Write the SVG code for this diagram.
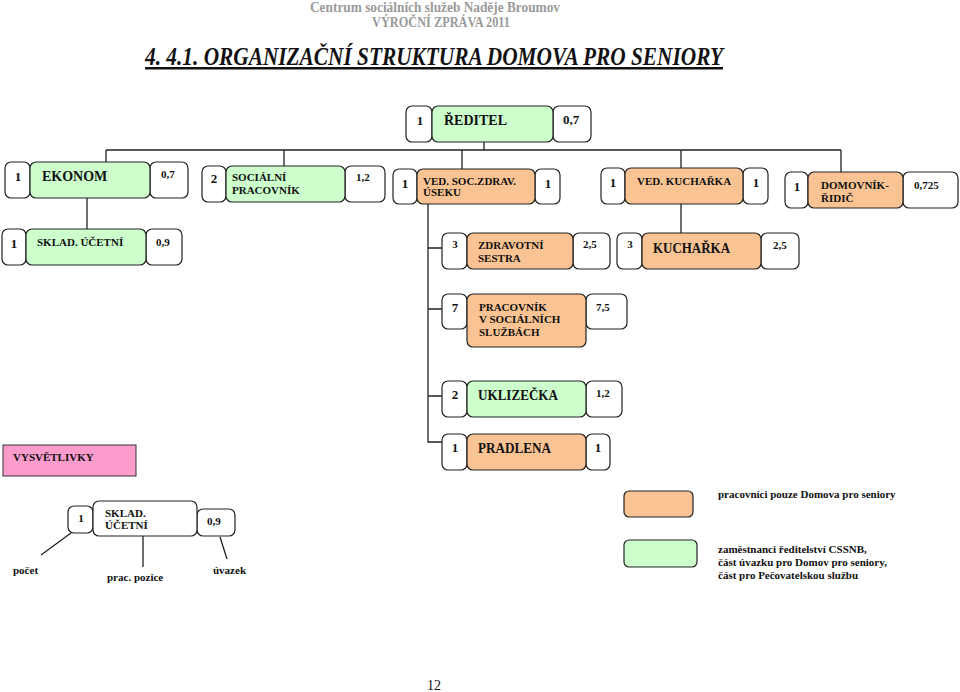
<svg xmlns="http://www.w3.org/2000/svg" width="960" height="692" viewBox="0 0 960 692">
<style>
text{font-family:"Liberation Serif","Times New Roman",serif;font-weight:bold;fill:#111}
.b{stroke:#222;stroke-width:1.2;fill:#fff}
.g{stroke:#222;stroke-width:1.2;fill:#ccffcc}
.o{stroke:#222;stroke-width:1.2;fill:#fac393}
.ln{stroke:#222;stroke-width:1.3;fill:none}
.s11{font-size:11px}
.s13{font-size:13px}
.s14{font-size:14px}
.n{font-size:13px;text-anchor:middle}
.r{font-size:11px}
</style>
<rect width="960" height="692" fill="#fff"/>
<g id="header">
<text x="435" y="12" text-anchor="middle" style="font-size:14px;fill:#9a9a9a" textLength="250" lengthAdjust="spacingAndGlyphs">Centrum sociálních služeb Naděje Broumov</text>
<text x="441" y="27" text-anchor="middle" style="font-size:14px;fill:#9a9a9a" textLength="138" lengthAdjust="spacingAndGlyphs">VÝROČNÍ ZPRÁVA 2011</text>
<text x="145" y="65" style="font-size:25px;font-style:italic;text-decoration:underline" textLength="578" lengthAdjust="spacingAndGlyphs">4. 4.1. ORGANIZAČNÍ STRUKTURA DOMOVA PRO SENIORY</text>
</g>
<g id="connectors">
<path class="ln" d="M484,142V150M106,150H841M106,150V162M284,150V166M462,150V169M681,150V168M841,150V172"/>
<path class="ln" d="M87,198V229"/>
<path class="ln" d="M428,204V442H442M428,248H442M428,309H442M428,396H442"/>
<path class="ln" d="M681,204V233"/>
<path class="ln" d="M71,533L41,555M143,536V567M220,537L227,559"/>
</g>
<g id="reditel">
<rect class="b" x="406" y="106" width="26" height="36" rx="6"/>
<rect class="b" x="553" y="106" width="38" height="36" rx="6"/>
<rect class="g" x="432" y="106" width="121" height="36" rx="6"/>
<text class="n" x="420" y="125">1</text>
<text class="s14" x="444" y="125">ŘEDITEL</text>
<text class="s13" x="563" y="124">0,7</text>
</g>
<g id="ekonom">
<rect class="b" x="5" y="162" width="25" height="36" rx="6"/>
<rect class="b" x="150" y="162" width="38" height="36" rx="6"/>
<rect class="g" x="30" y="162" width="120" height="36" rx="6"/>
<text class="n" x="18" y="181">1</text>
<text class="s14" x="42" y="181">EKONOM</text>
<text class="r" x="161" y="178">0,7</text>
</g>
<g id="socialni">
<rect class="b" x="202" y="166" width="24" height="36" rx="6"/>
<rect class="b" x="345" y="166" width="40" height="36" rx="6"/>
<rect class="g" x="226" y="166" width="119" height="36" rx="6"/>
<text class="n" x="214" y="183">2</text>
<text class="s11" x="232" y="181">SOCIÁLNÍ</text>
<text class="s11" x="232" y="194">PRACOVNÍK</text>
<text class="r" x="356" y="181">1,2</text>
</g>
<g id="ved-soc">
<rect class="b" x="393" y="169" width="24" height="35" rx="6"/>
<rect class="b" x="535" y="169" width="25" height="35" rx="6"/>
<rect class="o" x="417" y="169" width="118" height="35" rx="6"/>
<text class="n" x="405" y="188">1</text>
<text class="s11" x="423" y="185">VED. SOC.ZDRAV.</text>
<text class="s11" x="423" y="196">ÚSEKU</text>
<text class="n" x="548" y="188">1</text>
</g>
<g id="ved-kuch">
<rect class="b" x="601" y="168" width="24" height="36" rx="6"/>
<rect class="b" x="743" y="168" width="25" height="36" rx="6"/>
<rect class="o" x="625" y="168" width="118" height="36" rx="6"/>
<text class="n" x="613" y="187">1</text>
<text class="s11" x="637" y="185">VED. KUCHAŘKA</text>
<text class="n" x="756" y="187">1</text>
</g>
<g id="domovnik">
<rect class="b" x="785" y="172" width="23" height="36" rx="6"/>
<rect class="b" x="903" y="172" width="55" height="36" rx="6"/>
<rect class="o" x="808" y="172" width="95" height="36" rx="6"/>
<text class="n" x="797" y="191">1</text>
<text class="s11" x="821" y="189">DOMOVNÍK-</text>
<text class="s11" x="821" y="202">ŘIDIČ</text>
<text class="r" x="914" y="189">0,725</text>
</g>
<g id="sklad">
<rect class="b" x="2" y="229" width="24" height="36" rx="6"/>
<rect class="b" x="146" y="229" width="36" height="36" rx="6"/>
<rect class="g" x="26" y="229" width="120" height="36" rx="6"/>
<text class="n" x="14" y="248">1</text>
<text class="s11" x="37" y="246">SKLAD. ÚČETNÍ</text>
<text class="r" x="156" y="246">0,9</text>
</g>
<g id="zdrav-sestra">
<rect class="b" x="442" y="233" width="25" height="36" rx="6"/>
<rect class="b" x="573" y="233" width="37" height="36" rx="6"/>
<rect class="o" x="467" y="233" width="106" height="36" rx="6"/>
<text class="r" x="455" y="248" text-anchor="middle">3</text>
<text class="s11" x="478" y="249">ZDRAVOTNÍ</text>
<text class="s11" x="478" y="262">SESTRA</text>
<text class="r" x="583" y="248">2,5</text>
</g>
<g id="kucharka">
<rect class="b" x="617" y="233" width="25" height="36" rx="6"/>
<rect class="b" x="761" y="233" width="38" height="36" rx="6"/>
<rect class="o" x="642" y="233" width="119" height="36" rx="6"/>
<text class="r" x="630" y="248" text-anchor="middle">3</text>
<text x="653" y="253" style="font-size:14px" textLength="77" lengthAdjust="spacingAndGlyphs">KUCHAŘKA</text>
<text class="r" x="773" y="249">2,5</text>
</g>
<g id="pracovnik">
<rect class="b" x="442" y="294" width="25" height="35" rx="6"/>
<rect class="b" x="586" y="294" width="41" height="35" rx="6"/>
<rect class="o" x="467" y="294" width="119" height="53" rx="6"/>
<text class="n" x="455" y="312">7</text>
<text class="s11" x="479" y="311">PRACOVNÍK</text>
<text class="s11" x="479" y="323">V SOCIÁLNÍCH</text>
<text class="s11" x="479" y="336">SLUŽBÁCH</text>
<text class="r" x="596" y="311">7,5</text>
</g>
<g id="uklizecka">
<rect class="b" x="442" y="381" width="25" height="36" rx="6"/>
<rect class="b" x="586" y="381" width="36" height="36" rx="6"/>
<rect class="g" x="467" y="381" width="119" height="36" rx="6"/>
<text class="n" x="455" y="399">2</text>
<text class="s14" x="478" y="400" textLength="80" lengthAdjust="spacingAndGlyphs">UKLIZEČKA</text>
<text class="r" x="596" y="397">1,2</text>
</g>
<g id="pradlena">
<rect class="b" x="442" y="434" width="25" height="36" rx="6"/>
<rect class="b" x="586" y="434" width="24" height="36" rx="6"/>
<rect class="o" x="467" y="434" width="119" height="36" rx="6"/>
<text class="n" x="455" y="452">1</text>
<text class="s14" x="478" y="453" textLength="73" lengthAdjust="spacingAndGlyphs">PRADLENA</text>
<text class="n" x="598" y="452">1</text>
</g>
<g id="vysvetlivky">
<rect x="3" y="445" width="133" height="31" fill="#fc9ccd" stroke="#333" stroke-width="1"/>
<text class="s11" x="13" y="461">VYSVĚTLIVKY</text>
</g>
<g id="legend-node">
<rect class="b" x="68" y="506" width="25" height="27" rx="6"/>
<rect class="b" x="197" y="509" width="38" height="27" rx="6"/>
<rect class="b" x="93" y="501" width="104" height="35" rx="6"/>
<text class="r" x="81" y="522" text-anchor="middle">1</text>
<text class="s11" x="105" y="517">SKLAD.</text>
<text class="s11" x="105" y="529">ÚČETNÍ</text>
<text class="r" x="207" y="525">0,9</text>
<text class="r" x="13" y="574">počet</text>
<text class="r" x="107" y="581">prac. pozice</text>
<text class="r" x="213" y="574">úvazek</text>
</g>
<g id="legend-colors">
<rect class="o" x="624" y="491" width="69" height="26" rx="5"/>
<text class="r" x="718" y="498">pracovníci pouze Domova pro seniory</text>
<rect class="g" x="624" y="540" width="73" height="27" rx="5"/>
<text class="r" x="718" y="553">zaměstnanci ředitelství CSSNB,</text>
<text class="r" x="718" y="566">část úvazku pro Domov pro seniory,</text>
<text class="r" x="718" y="579">část pro Pečovatelskou službu</text>
</g>
<text x="434" y="690" text-anchor="middle" style="font-size:14px;font-weight:normal">12</text>
</svg>
